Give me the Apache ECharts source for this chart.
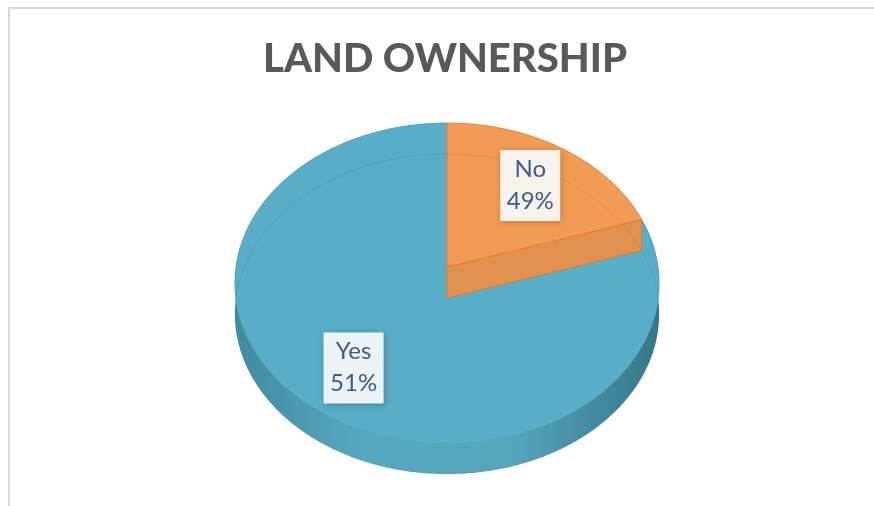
<!DOCTYPE html>
<html><head><meta charset="utf-8">
<script src="https://cdn.jsdelivr.net/npm/echarts@6/dist/echarts.min.js"></script>
<style>html,body{margin:0;padding:0;background:#fff}#c{width:874px;height:506px}</style>
</head><body><div id="c"></div>
<script>
// ---- data ----
const titleText = 'LAND OWNERSHIP';
const categories = ['No', 'Yes'];
const sliceShares = [20, 80];          // slice sizes as drawn in the picture
const labelPercents = ['49%', '51%'];  // data-label texts printed on the chart

// ---- styles ----
const topColors = ['#F29B54', '#58AEC7'];
const cutColors = ['#E0924E', '#4A9CB3'];
const edgeColors = ['#E57C2C', '#4E9FB6'];
const sideStops = [
  [[0, '#C9773A'], [0.5, '#E08E4C'], [1, '#C06E34']],
  [[0, '#3F8BA1'], [0.3, '#56A8BF'], [0.65, '#55A5BB'], [1, '#35778A']]
];

const total = sliceShares.reduce((a, b) => a + b, 0);
const CX = 447, CY = 267, A = 211, B = 158.4, K = 0.1, H = 31;
function proj(t, r, z) {
  const X = r * Math.sin(t), D = r * Math.cos(t), f = 1 / (1 + K * D);
  return [CX + A * X * f, CY - B * D * f + z];
}
function arc(t0, t1, z) {
  const n = Math.max(2, Math.ceil((t1 - t0) / 0.01));
  const pts = [];
  for (let i = 0; i <= n; i++) pts.push(proj(t0 + (t1 - t0) * i / n, 1, z));
  return pts;
}

function renderItem(params, api) {
  const i = params.dataIndex;
  const before = sliceShares.slice(0, i).reduce((a, b) => a + b, 0);
  const v = api.value(0);
  const t0 = before / total * 2 * Math.PI, t1 = (before + v) / total * 2 * Math.PI;
  const base = (categories.length - i) * 10;
  const children = [];
  const topArc = arc(t0, t1, 0), botArc = arc(t0, t1, H);
  const c0 = [CX, CY], c1 = [CX, CY + H];
  children.push({
    type: 'polygon', z2: base,
    shape: { points: topArc.concat(botArc.slice().reverse()) },
    style: { fill: new echarts.graphic.LinearGradient(0, 0, 1, 0,
      sideStops[i].map(s => ({ offset: s[0], color: s[1] }))) }
  });
  if (Math.sin(t1) > 1e-6) {
    children.push({ type: 'polygon', z2: base + 1,
      shape: { points: [c0, proj(t1, 1, 0), proj(t1, 1, H), c1] },
      style: { fill: cutColors[i], stroke: edgeColors[i], lineWidth: 1 } });
  }
  if (Math.sin(t0) < -1e-6) {
    children.push({ type: 'polygon', z2: base + 1,
      shape: { points: [c0, proj(t0, 1, 0), proj(t0, 1, H), c1] },
      style: { fill: cutColors[i], stroke: edgeColors[i], lineWidth: 1 } });
  }
  children.push({ type: 'polygon', z2: base + 2,
    shape: { points: [c0].concat(topArc) },
    style: { fill: topColors[i], stroke: edgeColors[i], lineWidth: 0.8 } });
  children.push({ type: 'polyline', z2: base + 3,
    shape: { points: botArc },
    style: { fill: null, stroke: 'rgba(0,0,0,0.07)', lineWidth: 1 } });
  const tm = (t0 + t1) / 2, p = proj(tm, 0.71, 4);
  children.push({ type: 'rect', z2: 100,
    shape: { x: p[0] - 30, y: p[1] - 35, width: 60, height: 71 },
    style: { fill: 'rgba(255,255,255,0.9)', shadowBlur: 6, shadowColor: 'rgba(0,0,0,0.25)', shadowOffsetX: 1, shadowOffsetY: 1 } });
  children.push({ type: 'text', z2: 101, x: p[0], y: p[1],
    style: { text: categories[i] + '\n' + labelPercents[i], fill: '#3E5B8A',
      font: '24px Lato', align: 'center', verticalAlign: 'middle', lineHeight: 32 } });
  return { type: 'group', children };
}

const chart = echarts.init(document.getElementById('c'));
chart.setOption({
  animation: false,
  backgroundColor: '#fff',
  title: {
    text: titleText, left: 440, top: 34, textAlign: 'center',
    textStyle: { fontFamily: 'Lato', fontWeight: 900, fontSize: 40, color: '#595959' }
  },
  graphic: [{ type: 'rect', z: -1, shape: { x: 9, y: 8, width: 1000, height: 1000 },
    style: { fill: 'none', stroke: '#D9D9D9', lineWidth: 2 } }],
  series: [{
    type: 'custom', coordinateSystem: 'none', renderItem,
    data: sliceShares.map((v, i) => ({ name: categories[i], value: [v] }))
  }]
});
</script></body></html>
